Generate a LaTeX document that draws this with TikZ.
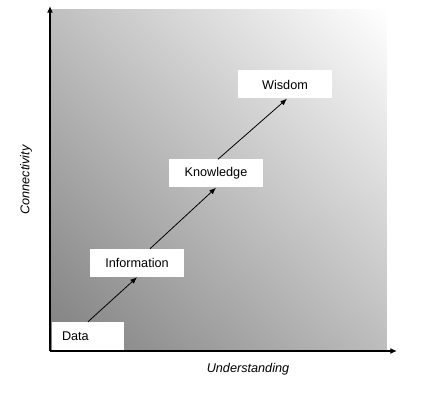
\documentclass[tikz,border=0pt]{standalone}
\usepackage{fontspec}
\setmainfont{Liberation Sans}
\usetikzlibrary{arrows.meta,shadings}

\begin{document}
\begin{tikzpicture}[x=0.75pt,y=-0.75pt,
  stage/.style={fill=white, inner sep=0pt, minimum height=21pt, font=\fontsize{9.5}{11}\selectfont},
  axis/.style={line width=1.5pt, -{Latex[length=5pt,width=4.5pt]}},
  link/.style={line width=0.6pt, -{Latex[length=5pt,width=4pt]}}]
\useasboundingbox (0,0) rectangle (437,407);
\shade[lower left=black!50, upper right=white, upper left=black!25, lower right=black!26] (50,10) rectangle (387,351);
\coordinate (origin) at (50,351);
\coordinate (ytop) at (50,6);
\coordinate (xend) at (397,351);
\node[stage, text width=39pt, inner xsep=7.5pt, align=left] (data) at (88,336) {Data};
\node[stage, minimum width=70.5pt] (info) at (137,263) {Information};
\node[stage, minimum width=70.5pt] (know) at (216,173.5) {Knowledge};
\node[stage, minimum width=70.5pt] (wisdom) at (285,84.5) {Wisdom};
\draw[axis] (origin) -- (ytop);
\draw[axis] (origin) -- (xend);
\draw[link] (data.north) -- (info.south);
\draw[link] ([xshift=9.75pt]info.north) -- (know.south);
\draw[link] ([xshift=1.5pt]know.north) -- ([xshift=1.5pt]wisdom.south);
\node[font=\fontsize{9.5}{11}\selectfont\itshape, rotate=90] (ylabel) at (26,180) {Connectivity};
\node[font=\fontsize{9.5}{11}\selectfont\itshape] (xlabel) at (248,369) {Understanding};
\end{tikzpicture}
\end{document}
